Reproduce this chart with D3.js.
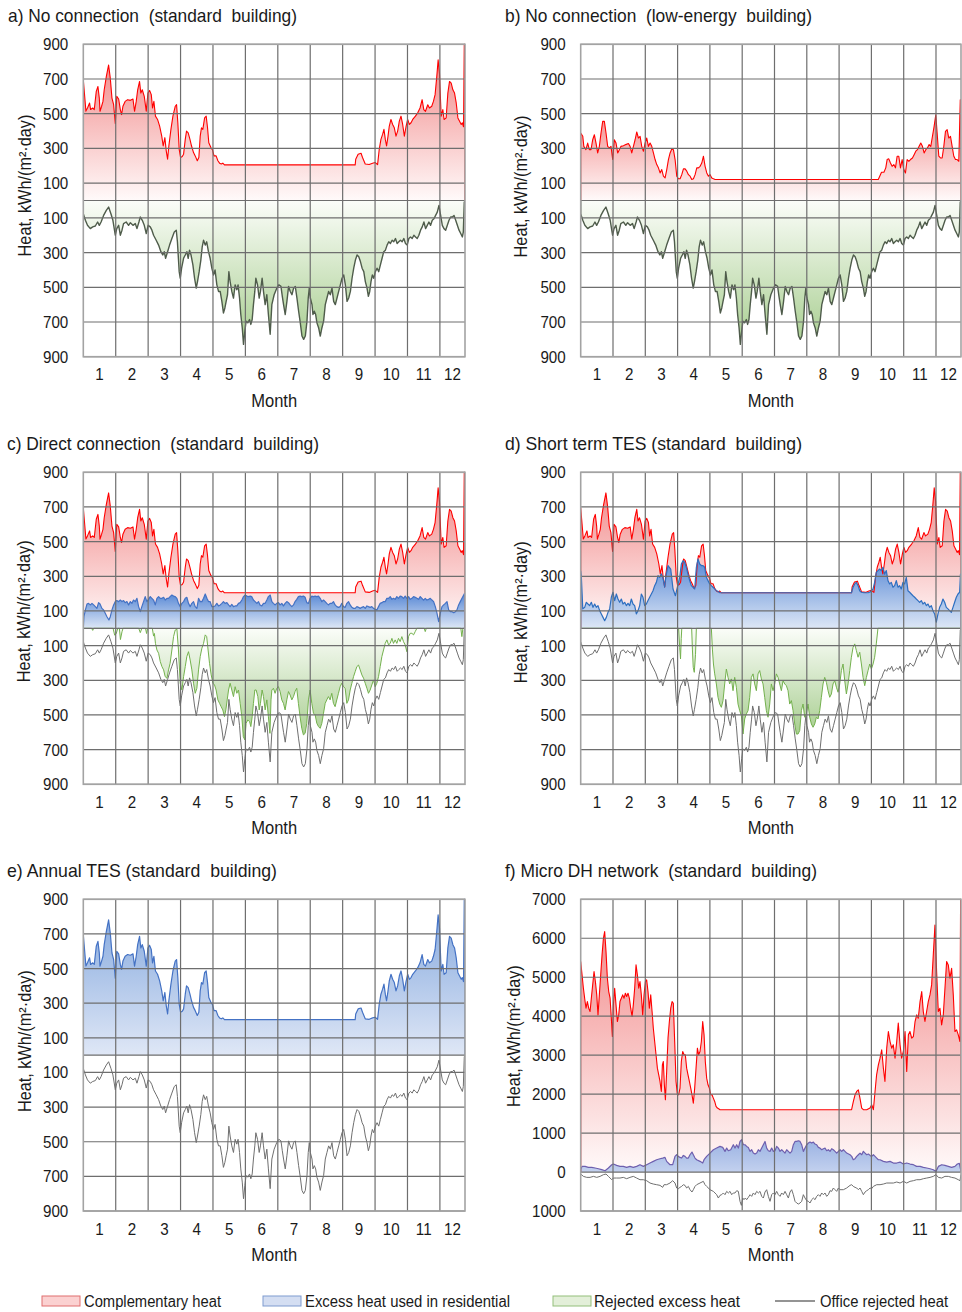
<!DOCTYPE html>
<html>
<head>
<meta charset="utf-8">
<script src="https://cdn.jsdelivr.net/npm/d3@7"></script>
<style>
  body { margin: 0; background: #fff; }
  text { font-family: "Liberation Sans", Arial, sans-serif; fill: #1a1a1a; white-space: pre; }
</style>
</head>
<body>
<svg id="chart" width="962" height="1312"></svg>
<script>
// ---- x axis: day of year, month grid every 31 days ----
const monthLabels = ["1","2","3","4","5","6","7","8","9","10","11","12"];
const monthEdges = [31,62,93,124,155,186,217,248,279,310,341];
const monthCenters = [15.5,46.5,77.5,108.5,139.5,170.5,201.5,232.5,263.5,294.5,325.5,353];
const yTicksStd = [900,700,500,300,100,0,-100,-300,-500,-700,-900];
const yTicksNet = [7000,6000,5000,4000,3000,2000,1000,0,-1000];

// ---- series: [day, kWh/(m²·day)] ----
// heat demand, standard building (a, c, d, e)
const demandStd = [[0,0],[0,695],[2.5,515],[4,533],[6,562],[7,524],[9,533],[10.5,524],[12.4,629],[14,657],[15.3,590],[16,514],[17.5,543],[18.8,571],[20,638],[22,714],[24.2,781],[25.8,705],[27.4,590],[29,552],[30.6,444],[32,600],[33.8,585],[35.4,524],[36.6,495],[37.9,543],[40,571],[42.4,581],[45,577],[47.5,585],[49,514],[50.6,571],[52,638],[53.8,686],[55,619],[56.4,638],[58.3,600],[60.2,514],[61.8,619],[63.4,634],[65,610],[66.2,533],[67.5,571],[69,486],[71,467],[73,429],[75,371],[76.4,314],[78,362],[79.3,286],[80.6,238],[81.8,314],[83.8,410],[85.7,486],[87.9,543],[89.2,552],[90.4,448],[91.7,295],[93,248],[94.6,253],[95.9,267],[97.5,352],[98.7,400],[100.3,390],[102,352],[103.5,314],[105.4,276],[107,257],[109,229],[110.5,248],[111.8,371],[113,419],[114.3,410],[116,476],[117.5,486],[118.8,419],[120,333],[122,305],[123.6,291],[125,257],[127,257],[128.7,229],[130.3,215],[132,210],[133.4,215],[135,205],[260,205],[260.5,238],[262.8,267],[265.6,272],[267,248],[269.6,210],[273.4,207],[276.6,215],[279,219],[281.4,207],[283,295],[284.6,352],[286.2,381],[287.5,410],[288.8,352],[290,314],[291.4,371],[292.6,429],[294.2,467],[295.8,438],[297.4,419],[299,371],[300.6,400],[302.2,457],[303.8,486],[305.4,438],[307,371],[308.6,425],[310.2,467],[311.8,438],[313.4,448],[315,467],[317.6,486],[319.8,505],[322,533],[324,581],[325.6,524],[327.2,514],[329.4,552],[331,533],[333.2,543],[334.8,571],[336.4,610],[338,714],[339.3,810],[340.6,733],[342.2,486],[343.8,524],[345,467],[347,476],[348.6,619],[350.2,686],[351.8,676],[353.4,638],[355,619],[356.6,562],[358.2,476],[359.8,457],[361.4,438],[362.4,448],[363.6,425],[364.3,900],[365,900],[365,0]];

// heat demand, low-energy building (b)
const demandLow = [[0,0],[0,389],[2,370],[3,312],[5,293],[6.7,331],[8.3,293],[9.9,293],[11.5,350],[13.1,379],[14.7,331],[16.3,274],[17.9,312],[19.5,389],[21.1,456],[22.7,456],[24.3,389],[25.9,312],[27.5,303],[29.1,312],[30.7,236],[32.3,350],[33.9,331],[35.5,274],[37.1,293],[38.7,312],[41,316],[43.2,322],[45.8,328],[47.4,312],[49,274],[50.6,312],[52.2,350],[53.8,395],[55.4,360],[57,370],[58.6,312],[60.2,284],[61.8,331],[63.4,360],[65,312],[66.6,331],[68.2,312],[69.8,274],[71.4,236],[73,207],[74.6,188],[76.2,159],[77.8,178],[79.4,140],[81,130],[82.6,178],[84.2,236],[85.8,274],[87.4,297],[89,293],[90.6,236],[92.2,140],[93.8,125],[95.4,125],[97,149],[98.6,182],[100.2,182],[101.8,169],[103.4,149],[105,140],[106.6,121],[108.2,125],[109.8,149],[111.4,188],[113,188],[114.6,197],[116.2,216],[117.8,255],[119.4,197],[121,159],[122.6,140],[124.2,149],[125.8,130],[127.4,125],[129,121],[285.6,121],[287,140],[288.7,163],[291,163],[292.8,188],[294.1,236],[295.7,240],[297.3,216],[298.9,197],[300.5,207],[302.1,188],[303.7,255],[305.3,255],[306.9,188],[308.5,236],[310.1,178],[311.7,159],[313.3,236],[314.9,226],[316.5,236],[318.4,245],[320,264],[321.6,284],[323.2,293],[324.8,312],[326.4,331],[328,312],[329.6,274],[331.2,293],[332.8,303],[334.4,322],[336,312],[337.6,370],[339.2,427],[340.8,494],[342.1,389],[343.7,255],[345.3,245],[346.9,245],[348.5,312],[350.1,398],[351.7,408],[353.3,360],[354.9,370],[356.5,312],[358.1,255],[359.7,236],[361.3,236],[362.9,226],[364.3,580],[365,580],[365,0]];

// office rejected heat (a-e), plotted downwards
const officeHeat = [[0,0],[0,76],[0.5,86],[2,114],[4,143],[6.7,162],[9,152],[11.5,147],[13.7,124],[15.3,143],[17,124],[19.4,86],[22,57],[24.2,38],[26.4,76],[28.3,114],[30.6,200],[32,162],[33.8,143],[35.4,200],[37,171],[38.5,133],[41,124],[43.3,143],[45,128],[47.5,143],[49.7,133],[51.3,162],[53.2,124],[54.5,95],[56.4,114],[58.3,143],[60.2,190],[62,143],[64,152],[65.6,171],[67.2,200],[69.7,229],[72,257],[74.2,295],[76,314],[77.4,295],[78.7,333],[80.6,295],[82.5,257],[84.7,219],[87,181],[88.9,171],[90,238],[91.7,410],[92.7,448],[94,390],[95.9,333],[97.5,314],[99,295],[100.3,333],[101.6,286],[103,314],[104.8,371],[106.4,448],[108,505],[109.2,467],[110.8,410],[112.4,343],[113.7,267],[115,229],[116.6,257],[118,238],[119.7,295],[121.3,333],[122.9,390],[124.5,429],[126,400],[127.7,486],[129.3,524],[130.9,524],[132.5,581],[134,648],[135.4,619],[136.6,581],[137.9,543],[139.2,410],[140.4,467],[142,524],[143.6,562],[145.2,486],[146.8,514],[148,486],[149.4,562],[150.6,657],[152,733],[153.2,829],[154.5,752],[155.7,695],[157.3,705],[159,686],[160.2,714],[161.5,686],[162.7,600],[164,524],[165,448],[166.6,486],[168.2,562],[169.4,524],[171,448],[172.3,524],[173.9,600],[175.5,543],[177,657],[178.7,771],[180.3,600],[182.5,543],[185,505],[187,486],[189,495],[190.3,552],[191.5,600],[193.1,657],[194.7,581],[196.3,495],[197.9,524],[199.5,543],[201.1,505],[202.7,495],[204.3,562],[205.9,638],[207.5,705],[209.1,781],[210.7,800],[212.3,781],[213.9,695],[215.1,562],[216.1,505],[217.1,562],[218.7,600],[219.6,657],[220.9,638],[222.2,657],[223.4,705],[225,733],[226.6,781],[228.2,733],[229.8,695],[231.4,600],[233,562],[234.6,524],[236.2,543],[237.8,505],[239.4,581],[241,600],[242.6,562],[244.2,524],[245.8,486],[247.4,448],[249,429],[250.6,486],[252.2,581],[253.8,562],[255.4,524],[257,448],[258.6,390],[260.2,343],[261.8,314],[263.4,324],[265,352],[266.6,390],[268.2,410],[269.7,467],[271.3,505],[272.6,552],[273.9,524],[275.1,467],[276.4,429],[277.7,448],[279.3,410],[280.9,390],[282.5,410],[284.1,371],[285.7,333],[287.3,295],[288.9,286],[290.5,257],[292.1,238],[293.7,248],[295.3,229],[296.9,238],[298.5,219],[300.1,248],[301.7,238],[303.3,229],[304.9,238],[306.5,219],[308.1,248],[309.7,257],[311.3,219],[312.9,210],[314.5,219],[316.1,200],[317.7,210],[319.3,219],[320.9,200],[322.5,171],[324.1,152],[325.7,124],[327.3,162],[328.9,143],[330.5,124],[332.1,143],[333.7,114],[335.3,105],[336.9,86],[338.5,67],[340.1,29],[341.7,86],[343.3,143],[344.9,162],[346.5,171],[348.1,143],[349.7,114],[351.3,95],[352.9,95],[354.5,86],[356.1,114],[357.7,143],[359.3,171],[360.9,190],[362.5,210],[363.4,181],[364.3,10],[365,0]];

// c) direct connection: excess heat used / rejected
const usedDirect = [[0,0],[0.6,67],[2,106],[3.5,140],[5,144],[6.7,135],[8.3,144],[9.9,135],[11.5,125],[13,115],[14.6,148],[16,140],[17.8,115],[19.4,106],[21,87],[22.6,67],[24.5,48],[25.8,67],[27.4,106],[29,135],[30.6,154],[32,160],[33.8,154],[35.4,163],[37,154],[38.5,160],[40,148],[41.7,154],[43.3,135],[45,154],[46.5,144],[48,163],[49.7,154],[51.3,173],[52.9,125],[54.5,96],[56,125],[57.6,154],[59.2,183],[60.8,154],[62.4,167],[64,183],[65.6,173],[67.2,163],[68.8,135],[70.4,173],[72,183],[73.6,173],[75.2,173],[76.8,179],[78.3,163],[80,173],[81.5,173],[83,183],[84.7,192],[86.3,186],[87.9,183],[89.5,173],[91,144],[92.7,125],[94.3,144],[95.9,154],[97.5,173],[99,179],[100.6,144],[102.2,125],[103.8,144],[105.4,154],[107,125],[108.6,115],[110.2,173],[111.8,154],[113.4,154],[115,173],[116.6,198],[118.2,173],[119.7,154],[121.3,154],[122.9,125],[124.5,125],[126,129],[127.7,144],[129.3,129],[130.9,135],[132.5,144],[134,154],[135.6,144],[137.3,148],[138.9,135],[140.4,125],[142,138],[143.6,125],[145.2,129],[146.8,129],[148.4,144],[150,148],[151.6,163],[153.2,183],[154.8,192],[156.4,186],[158,183],[159.6,186],[161,183],[162.7,163],[164.3,154],[166,144],[167.5,154],[169,135],[170.7,129],[172.3,144],[173.9,144],[175.5,163],[177,183],[178.7,192],[180.3,154],[181.8,144],[183.4,135],[185,144],[186.6,148],[188.2,135],[189.8,144],[191.4,129],[193,144],[194.6,154],[196.2,148],[197.8,135],[199.4,125],[201,135],[202.5,154],[204.1,167],[205.7,183],[207.3,186],[208.9,183],[210.5,186],[212.1,179],[213.7,148],[215.3,144],[216.9,173],[218.5,186],[220.1,183],[221.7,186],[223.3,183],[224.9,186],[226.5,173],[228.1,154],[229.7,163],[231.3,154],[232.8,144],[234.4,135],[236,144],[237.6,144],[239.2,154],[240.8,135],[242.4,125],[244,121],[245.6,125],[247.2,144],[248.8,125],[250.4,121],[252,144],[253.6,154],[255.2,135],[256.8,121],[258.4,115],[260,115],[261.6,125],[263.2,121],[264.8,115],[266.4,121],[268,125],[269.6,115],[271.2,129],[272.7,125],[274.3,121],[275.9,125],[277.5,115],[279.1,110],[280.7,106],[282.3,125],[283.9,144],[285.5,148],[287.1,154],[288.7,154],[290.3,173],[291.9,173],[293.5,183],[295.1,167],[296.6,173],[298.2,167],[299.8,183],[301.4,173],[303,186],[304.6,183],[306.2,173],[307.8,186],[309.4,173],[311,183],[312.6,167],[314.2,173],[315.8,183],[317.4,179],[319,173],[320.6,167],[322.2,183],[323.8,173],[325.4,163],[327,173],[328.6,163],[330.2,167],[331.8,173],[333.4,163],[335,154],[336.6,125],[338.2,87],[339.8,38],[341.4,87],[343,125],[344.6,135],[346.2,144],[347.8,154],[349.4,106],[351,96],[352.6,96],[354.2,90],[355.8,96],[357.3,106],[358.9,135],[360.5,154],[362.1,173],[363,183],[364.5,200],[365,200],[365,0]];
const rejectedDirect = [[0,0],[8,0],[9,12],[10,0],[28.5,0],[30,40],[31.5,30],[33,0],[34.5,0],[35.5,65],[37,20],[38,0],[53,0],[54.5,25],[56,0],[59.5,0],[60.5,30],[61.5,0],[66,0],[67.2,45],[68,30],[69,87],[70.4,125],[72,144],[73.6,192],[75.2,221],[76.8,240],[78.3,279],[80,288],[81.5,240],[83,202],[84.7,125],[86.3,48],[87.9,10],[89.5,5],[91,125],[92.7,317],[94.3,356],[95.9,279],[97.5,221],[99,163],[100.6,135],[102.2,183],[103.8,240],[105.4,317],[107,375],[108.6,346],[110.2,240],[111.8,163],[113.4,115],[115,87],[116.6,38],[118,48],[119,106],[120.7,202],[122.3,269],[124,317],[125.5,327],[127,356],[128.7,413],[130.3,433],[131.8,452],[133.4,471],[135,510],[136.3,471],[137.6,413],[138.9,356],[140.4,317],[142,356],[143.6,394],[145.2,337],[146.8,375],[148.4,356],[150,433],[151.6,510],[153,625],[154.5,644],[155.7,548],[157.3,529],[159,538],[160.2,567],[161.5,510],[162.7,433],[164,356],[165.3,356],[166.9,394],[168.2,471],[169.4,433],[171,356],[172.3,394],[173.9,471],[175.5,413],[177,510],[178.5,606],[179.5,413],[180.3,356],[181.8,346],[183.4,375],[185,346],[186.6,337],[188.2,365],[189.8,413],[191.4,433],[193,471],[194.6,413],[196.2,365],[197.8,385],[199.4,413],[201,394],[202.5,365],[204.1,346],[205.7,433],[207.3,510],[208.9,577],[210.5,615],[212.1,606],[213.7,548],[215.3,413],[216.9,356],[218.5,433],[220.1,490],[221.7,500],[223.3,548],[224.9,567],[226.5,577],[228.1,548],[229.7,490],[231.3,433],[232.8,413],[234.4,394],[236,413],[237.6,375],[239.2,433],[240.8,452],[242.4,413],[244,375],[245.6,337],[247.2,317],[248.8,337],[250.4,346],[252,433],[253.6,413],[255.2,356],[256.8,317],[258.4,279],[260,250],[261.6,221],[263.2,212],[264.8,240],[266.4,269],[268,288],[269.6,317],[271.2,346],[272.7,375],[274.3,356],[275.9,327],[277.5,298],[279.1,337],[280.7,317],[282.3,279],[283.9,221],[285.5,163],[287.1,125],[288.7,87],[290.3,67],[291.9,96],[293.5,87],[295.1,58],[296.6,87],[298.2,67],[299.8,87],[301.4,58],[303,77],[304.6,48],[306.2,77],[307.8,96],[309.4,135],[311,48],[312.6,29],[314.2,29],[315.8,38],[317.4,19],[319,0],[326,0],[327,19],[328,0],[361,0],[362,48],[363,0],[365,0]];

// d) short term TES: excess heat used / rejected
const usedShortTes = [[0,0],[0,330],[0.6,300],[2,112],[3.8,121],[5.4,150],[7,140],[8.6,131],[10.2,150],[11.8,121],[13.4,140],[15,121],[16.6,131],[18.2,102],[19.8,83],[21.4,63],[23,44],[24.6,63],[26.2,92],[27.8,112],[29.4,179],[31,208],[32.6,160],[34.2,198],[35.8,169],[37.4,150],[39,169],[40.6,140],[42.2,150],[43.8,131],[45.4,144],[47,131],[48.6,169],[50.2,140],[51.8,131],[53.4,83],[55,102],[56.6,131],[58.2,198],[59.8,179],[61.4,131],[63,140],[64.6,160],[66.2,179],[67.8,198],[69.4,217],[71,246],[72.6,265],[74.2,304],[75.8,294],[77.4,314],[79,290],[80.6,238],[81.8,300],[83.8,362],[86.4,342],[88.6,227],[90.9,188],[92.8,237],[95,294],[96.6,371],[98.2,390],[99.8,381],[101.4,352],[103,313],[104.6,275],[106.2,246],[107.8,237],[109.4,227],[111,352],[112.6,400],[114.2,371],[115.8,362],[117.4,362],[119,352],[120.6,294],[122.2,275],[123.8,256],[125.4,246],[127,237],[128.6,227],[130.2,217],[131.8,213],[133.4,205],[259.8,205],[261.4,237],[263,256],[264.5,265],[266.2,246],[267.8,217],[269.4,208],[271.9,205],[275.8,205],[277.4,208],[279,217],[280.6,227],[282.1,265],[283.7,323],[285.3,333],[286.9,342],[288.5,333],[290.1,352],[291.7,313],[293.3,333],[294.9,275],[296.5,256],[298.1,265],[299.7,237],[301.3,246],[302.9,275],[304.5,237],[306.1,246],[307.7,227],[309.3,265],[310.9,256],[312.5,294],[314.1,217],[315.7,208],[317.3,198],[318.9,188],[320.5,179],[322.1,169],[323.7,160],[325.3,150],[326.9,160],[328.5,140],[330.1,150],[331.7,131],[333.3,140],[334.9,121],[336.5,131],[338.1,102],[339.7,83],[341.3,35],[342.9,83],[344.5,121],[346.1,140],[347.7,169],[349.3,150],[350.9,121],[352.5,112],[354.1,102],[355.7,92],[357.3,121],[358.9,150],[360.5,179],[362.1,198],[363.7,208],[364.5,313],[365,313],[365,0]];
const rejectedShortTes = [[0,0],[94,0],[95,110],[95.8,177],[96.5,60],[97,0],[106.5,0],[107.2,120],[108,225],[109,254],[110.2,150],[111,0],[125.4,0],[126.4,120],[127.4,206],[128.6,263],[130.2,321],[131.8,398],[133.4,437],[135,456],[136.6,417],[138.2,321],[139.8,235],[141.4,283],[143,321],[144.6,292],[146.2,360],[147.8,283],[149.4,340],[151,437],[152.6,475],[154.2,504],[155.8,610],[157.4,523],[159,494],[160.6,475],[162.2,398],[163.8,283],[165.4,263],[167,321],[168.6,360],[170.2,263],[171.8,244],[173.4,292],[175,321],[176.6,398],[178.2,475],[179.8,513],[181.4,437],[183,321],[184.6,360],[186.2,321],[187.8,263],[189.4,283],[191,321],[192.6,360],[194.2,302],[195.8,321],[197.4,331],[199,360],[200.6,437],[202.2,417],[203.8,475],[205.4,552],[207,610],[208.6,610],[210.2,590],[211.8,475],[213.4,437],[215,513],[216.6,494],[218.2,437],[219.8,513],[221.4,552],[223,571],[224.6,552],[226.2,513],[227.8,523],[229.4,475],[231,398],[232.6,321],[234.2,283],[235.8,312],[237.4,360],[239,398],[240.6,379],[242.2,321],[243.8,302],[245.4,340],[247,369],[248.6,321],[250.2,244],[251.8,206],[253.4,302],[255,379],[256.6,321],[258.2,244],[259.8,167],[261.4,110],[263,90],[264.6,129],[266.2,167],[267.8,138],[269.4,206],[271,283],[272.6,331],[274.2,283],[275.8,244],[277.4,206],[279,235],[280.6,206],[282.1,167],[283.7,90],[285.3,0],[365,0]];

// f) micro DH network
const demandNet = [[0,0],[0,5402],[1.3,5060],[2.6,4718],[4.2,4376],[5.1,4205],[6.4,4376],[7.7,4205],[9,4120],[10.2,4462],[11.5,4803],[12.8,5145],[14.1,4889],[15.4,4547],[16.6,4034],[17.9,4547],[19.2,5060],[20.5,5573],[21.8,6000],[23,6171],[24.3,5658],[25.6,4974],[26.9,4632],[28.2,4462],[29.4,3949],[30.4,3479],[31.4,4291],[32.6,4718],[33.9,4291],[35.2,3863],[36.5,4034],[37.7,4376],[39,4462],[40.3,4547],[41.6,4462],[42.9,4590],[44.1,4504],[45.4,4590],[46.7,4462],[48,4205],[49.3,3992],[50.5,4291],[51.8,4718],[53.1,5316],[54.4,5060],[55.7,4718],[56.9,4889],[58.2,4547],[59.5,4034],[60.8,4547],[62.1,4889],[63.3,4932],[64.6,4632],[65.9,4205],[67.2,4547],[68.5,4120],[69.7,3692],[71,3350],[72.3,3009],[73.6,2667],[74.9,2496],[76.1,2325],[77.4,2068],[78.4,2752],[79.3,2838],[80.3,2239],[81.3,1855],[82.5,2581],[83.8,3436],[85.1,3863],[86.4,4205],[87.7,4376],[88.9,4333],[90.2,3350],[91.5,2325],[92.8,1983],[94,1983],[95.3,2154],[96.6,2838],[97.9,3094],[99.2,3009],[100.4,3009],[101.7,2667],[103,2496],[104.3,2325],[105.6,2154],[106.8,1983],[108.1,1769],[109.4,2154],[110.7,2667],[112,3179],[113.2,3009],[114.5,3094],[115.8,3350],[117.1,3863],[118.4,3521],[119.6,2838],[120.9,2410],[122.2,2239],[123.5,2154],[124.8,1983],[126,1983],[127.3,1897],[128.6,1812],[129.9,1684],[131.2,1641],[132.4,1624],[133.7,1600],[260,1600],[261.7,1812],[263.3,1983],[264.9,2068],[266.5,2111],[268,1897],[269.7,1641],[271.3,1600],[274.5,1600],[277.7,1641],[279.3,1726],[280.9,1600],[282.5,2068],[284,2496],[285.7,2752],[287.3,2923],[288.9,3137],[290.5,2667],[292,2325],[293.7,3179],[295.3,3607],[296.9,3350],[298.5,3179],[300,3265],[301.7,2923],[303.3,3350],[304.8,3821],[306.5,3265],[308,2923],[309.7,3094],[311.3,3607],[312.9,2581],[314.5,3521],[316,3607],[317.7,3436],[319.3,3479],[320.9,3863],[322.5,4034],[324,3949],[325.7,4376],[327.3,4632],[328.8,4120],[330.4,3863],[332,4120],[333.6,4376],[335.2,4547],[336.8,4803],[338.4,5573],[340,6342],[341.6,5145],[343.2,4120],[344.8,4205],[346.4,3778],[348,4034],[349.6,4718],[351.2,5402],[352.8,5316],[354.4,4974],[356,5231],[357.6,4547],[359.2,3607],[360.8,3650],[362.4,3521],[364,3350],[364.6,7000],[365,7000],[365,0]];
const usedNet = [[0,0],[0,60],[1.3,145],[4.2,145],[7.4,120],[10.6,120],[13.8,103],[17,85],[20.2,60],[23.4,34],[26.6,103],[29.8,188],[31.4,205],[34.5,171],[37.7,145],[40.9,145],[44.1,120],[47.3,145],[50.5,120],[53.7,145],[56.9,188],[60.1,145],[63.3,188],[66.5,231],[69.7,274],[72.9,316],[76.1,342],[78.7,359],[80.9,376],[82.5,274],[85.7,188],[88.3,188],[90.5,402],[92.1,444],[93.7,402],[95.3,376],[96.9,359],[98.5,427],[100.1,402],[101.7,359],[103.3,359],[104.9,444],[106.8,513],[108.1,444],[109.7,359],[111.3,316],[114.5,274],[117.1,231],[118.4,316],[120.9,402],[124.1,487],[127.3,573],[130.5,615],[133.7,658],[136.3,632],[138.5,530],[140.1,615],[141.7,547],[144,573],[146.5,701],[148.1,615],[149.7,701],[151.3,615],[152.9,786],[154.5,829],[156.1,701],[157.7,701],[159.3,658],[160.9,632],[162.5,530],[164.1,573],[165.7,487],[167.3,462],[168.9,487],[170.5,573],[172.1,530],[173.7,615],[175.3,701],[176.9,786],[178.5,615],[180.1,547],[181.7,530],[183.3,615],[184.9,530],[186.5,547],[188.1,658],[189.7,615],[191.3,530],[192.9,573],[194.5,530],[196.1,487],[197.7,573],[199.3,530],[200.9,487],[202.5,530],[204.1,701],[205.7,786],[207.3,786],[208.9,803],[210.5,786],[212.1,701],[213.7,530],[215.3,615],[216.9,701],[218.5,744],[220.1,769],[221.7,744],[223.3,769],[224.9,718],[226.5,701],[228.1,632],[229.7,615],[231.3,573],[232.9,598],[234.5,615],[236.1,547],[237.7,573],[239.3,530],[240.9,598],[242.5,573],[244.1,530],[245.7,487],[247.3,530],[248.9,573],[250.5,530],[252.1,573],[253.7,530],[255.3,487],[258.5,444],[260.1,402],[261.6,316],[263.3,342],[264.9,402],[266.5,444],[268.1,487],[269.7,444],[271.3,530],[272.9,487],[274.5,444],[276.1,462],[277.7,427],[279.3,402],[280.9,444],[282.5,402],[284.1,359],[285.7,316],[287.3,316],[290.5,274],[293.7,256],[296.9,274],[300.1,231],[303.3,231],[306.5,256],[309.7,205],[312.9,231],[316.1,205],[319.3,188],[322.4,145],[325.7,145],[328.9,120],[332.1,103],[335.3,85],[338.4,60],[341,17],[343.3,145],[346.5,188],[349.6,171],[352.8,145],[356,120],[359.2,145],[361.5,205],[363.4,222],[365,17],[365,0]];
const officeNet = [[0,51],[2.6,111],[5.8,137],[9,137],[12.2,111],[15.4,137],[18.6,111],[21.8,68],[24.3,51],[26.6,111],[29.8,197],[31.4,154],[34.5,154],[37.7,154],[40.9,137],[44.1,171],[47.3,137],[50.5,111],[53.7,154],[56.9,197],[60.1,197],[63.3,222],[66.5,282],[69.7,308],[72.9,325],[76.1,342],[78.7,393],[80,325],[82.5,325],[85.7,282],[88.3,222],[90.5,282],[92.1,410],[93.7,427],[95.3,393],[96.9,368],[98.5,325],[100.1,342],[101.7,410],[103.3,368],[104.9,453],[106.8,513],[108.1,453],[109.7,368],[111.3,325],[114.5,282],[117.7,239],[119.3,325],[120.9,368],[124.1,453],[127.3,496],[130.5,581],[132.1,667],[133.7,598],[135.3,581],[136.9,538],[138.5,581],[140.1,496],[141.7,538],[143.3,496],[144.9,581],[146.5,538],[148.1,538],[149.7,479],[151.3,496],[152.9,752],[154.2,855],[155.5,667],[156.7,709],[158,667],[159.3,709],[160.9,650],[162.5,581],[164.1,624],[165.7,538],[167.3,581],[168.9,496],[170.5,538],[172.1,496],[173.7,624],[175.3,667],[176.9,513],[178.5,453],[180.1,624],[181.7,752],[183.3,581],[184.9,538],[186.5,581],[188.1,496],[189.7,581],[191.3,624],[192.9,538],[194.5,581],[196.1,496],[197.7,581],[199.3,667],[200.9,513],[202.5,453],[204.1,581],[205.7,752],[207.3,795],[208.9,821],[210.5,795],[212.1,752],[213.7,581],[215.3,667],[216.9,735],[218.5,752],[220.1,795],[221.7,709],[223.3,667],[224.9,709],[226.5,624],[228.1,581],[229.7,624],[231.3,538],[232.9,581],[234.5,538],[236.1,624],[237.7,581],[239.3,479],[240.9,496],[242.5,410],[244.1,453],[245.7,496],[247.3,410],[248.9,453],[252.1,453],[255.3,410],[258.5,342],[260.1,325],[261.6,368],[263.3,393],[264.9,410],[266.5,453],[268.1,410],[269.7,496],[271.3,581],[272.9,513],[274.5,479],[276.1,453],[277.7,410],[279.3,427],[280.9,368],[284.1,325],[287.3,325],[290.5,308],[293.7,282],[300.1,282],[303.3,256],[306.5,282],[309.7,239],[312.9,282],[316.1,239],[319.3,222],[322.4,197],[325.7,197],[328.9,171],[332.1,154],[335.3,137],[338.4,111],[341,68],[343.3,137],[346.5,154],[349.6,111],[352.8,111],[356,137],[359.2,154],[362.4,197],[364,222],[365,68]];

// ---- legend ----
const legendNames = ["Complementary heat","Excess heat used in residential","Rejected excess heat","Office rejected heat"];

const svg = d3.select("#chart");
const defs = svg.append("defs");

function gradient(id, top, bottom) {
  const gr = defs.append("linearGradient").attr("id", id)
    .attr("x1", 0).attr("y1", 0).attr("x2", 0).attr("y2", 1);
  gr.append("stop").attr("offset", 0).attr("stop-color", top);
  gr.append("stop").attr("offset", 1).attr("stop-color", bottom);
}
gradient("gRed", "#f07e7e", "#fffafa");
gradient("gGreen", "#fbfdf9", "#a8ce90");
gradient("gBlue", "#5888d5", "#dde7f6");
gradient("gBlueE", "#7ea4dc", "#dfe7f6");
gradient("gBlueF", "#9ab2e2", "#c3d1ef");

// text helper: the figure's lettering is slightly condensed
function txt(parent, x, y, s, size, opts = {}) {
  const t = parent.append("text")
    .attr("transform", `translate(${x},${y})${opts.rotate ? " rotate(-90)" : ""} scale(${opts.sx || 0.92},1)`)
    .attr("font-size", size)
    .attr("text-anchor", opts.anchor || "start")
    .text(s);
  return t;
}

const panels = [
  { key: "a", title: "a) No connection  (standard  building)", tx: 8, tw: 289, ty: 21.5,
    left: 83.3, right: 465, top: 44.3, bottom: 356.7, domain: [-900, 900], ticks: yTicksStd, labX: 31, labDy: -15,
    areas: [[demandStd, 1, "gRed"], [officeHeat, -1, "gGreen"]],
    lines: [[demandStd, 1, "#ff0000", 1.1], [officeHeat, -1, "#4f5c4b", 1.4]] },
  { key: "b", title: "b) No connection  (low-energy  building)", tx: 505, tw: 307, ty: 21.5,
    left: 580.7, right: 961, top: 44.3, bottom: 356.7, domain: [-900, 900], ticks: yTicksStd, labX: 527, labDy: -14,
    areas: [[demandLow, 1, "gRed"], [officeHeat, -1, "gGreen"]],
    lines: [[demandLow, 1, "#ff0000", 1.1], [officeHeat, -1, "#4f5c4b", 1.4]] },
  { key: "c", title: "c) Direct connection  (standard  building)", tx: 7, tw: 312, ty: 450,
    left: 83.3, right: 465, top: 472.3, bottom: 784.3, domain: [-900, 900], ticks: yTicksStd, labX: 30, labDy: -17,
    areas: [[demandStd, 1, "gRed"], [usedDirect, 1, "gBlue"], [rejectedDirect, -1, "gGreen"]],
    lines: [[officeHeat, -1, "#6f6f6f", 1], [rejectedDirect, -1, "#74b14e", 1], [demandStd, 1, "#ff0000", 1.1], [usedDirect, 1, "#4472c4", 1.2]] },
  { key: "d", title: "d) Short term TES (standard  building)", tx: 505, tw: 297, ty: 450,
    left: 580.7, right: 961, top: 472.3, bottom: 784.3, domain: [-900, 900], ticks: yTicksStd, labX: 527, labDy: -16,
    areas: [[demandStd, 1, "gRed"], [usedShortTes, 1, "gBlue"], [rejectedShortTes, -1, "gGreen"]],
    lines: [[officeHeat, -1, "#6f6f6f", 1], [rejectedShortTes, -1, "#74b14e", 1], [demandStd, 1, "#ff0000", 1.1], [usedShortTes, 1, "#2e6fc0", 1.2]] },
  { key: "e", title: "e) Annual TES (standard  building)", tx: 7, tw: 270, ty: 876.5,
    left: 83.3, right: 465, top: 899.3, bottom: 1211, domain: [-900, 900], ticks: yTicksStd, labX: 31, labDy: -14,
    areas: [[demandStd, 1, "gBlueE"]],
    lines: [[officeHeat, -1, "#6f6f6f", 1], [demandStd, 1, "#4472c4", 1.2]] },
  { key: "f", title: "f) Micro DH network  (standard  building)", tx: 505, tw: 312, ty: 876.5,
    left: 580.7, right: 961, top: 899.3, bottom: 1211, domain: [-1000, 7000], ticks: yTicksNet, labX: 520, labDy: -19,
    areas: [[demandNet, 1, "gRed"], [usedNet, 1, "gBlueF"]],
    lines: [[officeNet, -1, "#6f6f6f", 1], [demandNet, 1, "#ff0000", 1.1], [usedNet, 1, "#6e5fae", 1.2]] }
];

panels.forEach(p => {
  const x = d3.scaleLinear().domain([0, 365]).range([p.left, p.right]);
  const y = d3.scaleLinear().domain(p.domain).range([p.bottom, p.top]);
  const g = svg.append("g").attr("class", "panel-" + p.key);

  defs.append("clipPath").attr("id", "clip-" + p.key)
    .append("rect").attr("x", p.left).attr("y", p.top - 1)
    .attr("width", p.right - p.left).attr("height", p.bottom - p.top + 2);
  const plot = g.append("g").attr("clip-path", `url(#clip-${p.key})`);

  // filled areas
  p.areas.forEach(([data, sign, grad]) => {
    plot.append("path").datum(data)
      .attr("fill", `url(#${grad})`)
      .attr("d", d3.area().x(d => x(d[0])).y0(y(0)).y1(d => y(sign * d[1])));
  });

  // grid
  g.append("g").selectAll("line.h").data(p.ticks).join("line")
    .attr("x1", p.left).attr("x2", p.right)
    .attr("y1", d => y(d)).attr("y2", d => y(d))
    .attr("stroke", "#6e6e6e").attr("stroke-width", 1.2);
  g.append("g").selectAll("line.v").data(monthEdges).join("line")
    .attr("x1", d => x(d)).attr("x2", d => x(d))
    .attr("y1", p.top).attr("y2", p.bottom)
    .attr("stroke", "#6e6e6e").attr("stroke-width", 1.2);

  // series lines
  p.lines.forEach(([data, sign, color, w]) => {
    plot.append("path").datum(data)
      .attr("fill", "none").attr("stroke", color).attr("stroke-width", w)
      .attr("stroke-linejoin", "round")
      .attr("d", d3.line().x(d => x(d[0])).y(d => y(sign * d[1])));
  });

  // frame
  g.append("rect").attr("x", p.left).attr("y", p.top)
    .attr("width", p.right - p.left).attr("height", p.bottom - p.top)
    .attr("fill", "none").attr("stroke", "#a3a3a3").attr("stroke-width", 1.6);

  // y tick labels (absolute values; no label at 0 for the kWh panels)
  p.ticks.forEach(v => {
    if (v === 0 && p.key !== "f") return;
    txt(g, p.left - 15, y(v) + 6, String(Math.abs(v)), 16.5, { anchor: "end" });
  });

  // month labels
  monthCenters.forEach((d, i) => {
    txt(g, x(d), p.bottom + 23.5, monthLabels[i], 16.5, { anchor: "middle" });
  });
  txt(g, (p.left + p.right) / 2, p.bottom + 50, "Month", 18, { anchor: "middle" });

  // y axis title
  txt(g, p.labX, (p.top + p.bottom) / 2 + p.labDy, "Heat, kWh/(m²·day)", 17.5, { anchor: "middle", rotate: true, sx: 0.93 });

  // panel title
  g.append("text").attr("x", p.tx).attr("y", p.ty)
    .attr("font-size", 19)
    .attr("textLength", p.tw).attr("lengthAdjust", "spacingAndGlyphs")
    .text(p.title);
});

// legend
const lg = svg.append("g");
const legendBoxes = [
  { x: 42, fill: "#fbd1d1", stroke: "#e06f6f", tx: 84, tw: 137 },
  { x: 263, fill: "#d4def2", stroke: "#7f9bcf", tx: 305, tw: 205 },
  { x: 553, fill: "#e3efd9", stroke: "#93bf7b", tx: 594, tw: 146 },
  { x: 775, line: "#707070", tx: 820, tw: 128 }
];
legendBoxes.forEach((b, i) => {
  if (b.line) {
    lg.append("line").attr("x1", b.x).attr("x2", b.x + 40).attr("y1", 1301).attr("y2", 1301)
      .attr("stroke", b.line).attr("stroke-width", 1.5);
  } else {
    lg.append("rect").attr("x", b.x).attr("y", 1296).attr("width", 38).attr("height", 10)
      .attr("fill", b.fill).attr("stroke", b.stroke).attr("stroke-width", 1);
  }
  lg.append("text").attr("x", b.tx).attr("y", 1307)
    .attr("font-size", 16).attr("textLength", b.tw).attr("lengthAdjust", "spacingAndGlyphs")
    .text(legendNames[i]);
});
</script>
</body>
</html>
